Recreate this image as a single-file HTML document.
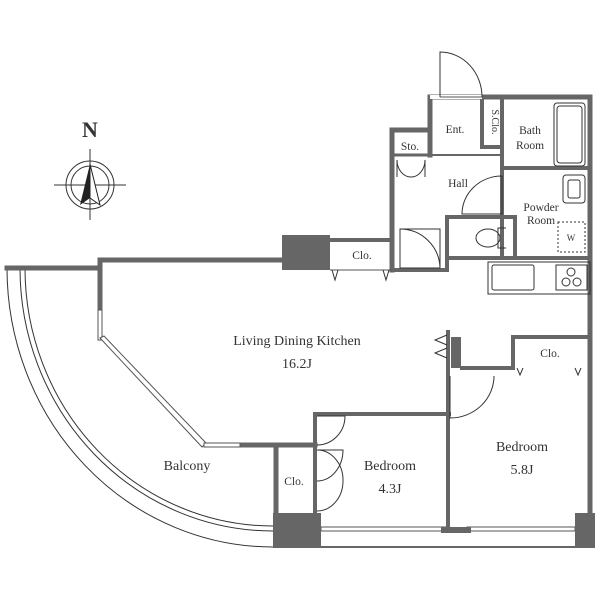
<!DOCTYPE html>
<html><head><meta charset="utf-8"><style>
html,body{margin:0;padding:0;background:#fff;}
svg{display:block;}
text{font-family:"Liberation Serif",serif;fill:#333;}
</style></head><body>
<svg width="600" height="600" viewBox="0 0 600 600" xmlns="http://www.w3.org/2000/svg">
<g fill="none" stroke="#333" stroke-width="1">
 <path d="M7,268 A266,279 0 0 0 273,547"/>
 <path d="M20,268 A253,263 0 0 0 273,531"/>
 <path d="M25,268 A248,258 0 0 0 273,526"/>
</g>
<g fill="none" stroke="#666" stroke-width="5" stroke-linecap="square">
 <line x1="7" y1="268" x2="100" y2="268"/>
 <line x1="100" y1="260" x2="284" y2="260"/>
 <line x1="100" y1="260" x2="100" y2="310"/>
 <line x1="240" y1="445" x2="315" y2="445"/>
 <line x1="276" y1="447" x2="276" y2="515"/>
 <line x1="315" y1="414" x2="449" y2="414" stroke-width="4"/>
 <line x1="315" y1="414" x2="315" y2="515" stroke-width="4"/>
 <line x1="448" y1="332" x2="448" y2="529" stroke-width="4"/>
 <line x1="590" y1="97" x2="590" y2="515"/>
 <line x1="462" y1="368" x2="513" y2="368" stroke-width="4"/>
 <line x1="513" y1="337" x2="590" y2="337" stroke-width="4"/>
 <line x1="513" y1="337" x2="513" y2="368" stroke-width="4"/>
 <line x1="456" y1="337" x2="456" y2="368" stroke-width="10" stroke-linecap="butt"/>
 <line x1="392" y1="130" x2="430" y2="130"/>
 <line x1="392" y1="130" x2="392" y2="270"/>
 <line x1="430" y1="97" x2="430" y2="155"/>
 <line x1="430" y1="97" x2="590" y2="97"/>
 <line x1="392" y1="155" x2="430" y2="155" stroke-width="3"/>
 <line x1="430" y1="155" x2="502" y2="155" stroke-width="2"/>
 <line x1="482" y1="97" x2="482" y2="147" stroke-width="4"/>
 <line x1="482" y1="147" x2="502" y2="147" stroke-width="4"/>
 <line x1="502" y1="97" x2="502" y2="258" stroke-width="4"/>
 <line x1="502" y1="168" x2="590" y2="168" stroke-width="4"/>
 <line x1="447" y1="217" x2="515" y2="217" stroke-width="4"/>
 <line x1="515" y1="217" x2="515" y2="258" stroke-width="4"/>
 <line x1="447" y1="217" x2="447" y2="270" stroke-width="4"/>
 <line x1="392" y1="270" x2="447" y2="270" stroke-width="4"/>
 <line x1="447" y1="258" x2="590" y2="258" stroke-width="4"/>
 <line x1="330" y1="240" x2="392" y2="240" stroke-width="4"/>
</g>
<g fill="#fff" stroke="#555" stroke-width="1">
 <rect x="98" y="310" width="4" height="30"/>
 <polygon points="100,338 104,336 206,443 202,447"/>
 <rect x="204" y="443" width="36" height="4"/>
 <rect x="321" y="527" width="125" height="4"/>
 <rect x="467" y="527" width="108" height="4"/>
 <rect x="430" y="95" width="52" height="4" stroke="none"/>
 <line x1="440" y1="97" x2="482" y2="97"/>
 <line x1="330" y1="270" x2="392" y2="270"/>
</g>
<g fill="#666">
 <rect x="282" y="235" width="48" height="35"/>
 <rect x="273" y="513" width="48" height="35"/>
 <rect x="575" y="513" width="20" height="35"/>
 <rect x="441" y="527" width="30" height="6"/>
</g>
<line x1="321" y1="547" x2="590" y2="547" stroke="#666" stroke-width="2"/>
<g fill="none" stroke="#333" stroke-width="1">
 <path d="M440,97 L440,52 A42,45 0 0 1 482,97"/>
 <path d="M332,270 L335,280 L338,270 M383,270 L386,280 L389,270"/>
 <path d="M517,368 L520,375 L523,368 M575,368 L578,375 L581,368"/>
 <path d="M397,177 L397,160 A14,17 0 0 0 411,177 M425,177 L425,160 A14,17 0 0 1 411,177"/>
 <path d="M462,214 A40,38 0 0 1 502,176 L502,214 Z"/>
 <path d="M400,229 L440,229 L440,268 L400,268 Z"/>
 <path d="M400,229 A40,40 0 0 1 440,268"/>
 <path d="M506,228 L498,228 L498,248 L506,248"/>
 <ellipse cx="488" cy="238" rx="12" ry="9"/>
 <rect x="554" y="103" width="31" height="63" rx="3"/>
 <rect x="557" y="106" width="25" height="57" rx="3"/>
 <rect x="563" y="175" width="22" height="28" rx="3"/>
 <rect x="568" y="180" width="12" height="18" rx="2"/>
 <rect x="558" y="222" width="27" height="30" stroke-dasharray="2,2"/>
 <rect x="488" y="262" width="102" height="32"/>
 <rect x="492" y="265" width="42" height="25" rx="2"/>
 <rect x="556" y="265" width="31" height="25"/>
 <circle cx="571" cy="272" r="4"/><circle cx="566" cy="282" r="4"/><circle cx="577" cy="282" r="4"/>
 <path d="M447,335 L435,340 L447,345 M447,348 L435,353 L447,358"/>
 <path d="M450,376 L450,418 A44,42 0 0 0 494,376"/>
 <path d="M317,416 L345,416 A28,29 0 0 1 317,445"/>
 <path d="M317,450 A26,30 0 0 1 343,481 A26,30 0 0 1 317,511"/>
 <path d="M317,450 L343,450 A26,31 0 0 1 317,481"/>
 <circle cx="90" cy="185" r="24"/>
 <circle cx="90" cy="185" r="19"/>
 <line x1="54" y1="185" x2="126" y2="185"/>
 <line x1="90" y1="149" x2="90" y2="220"/>
</g>
<polygon points="90,164 80,205 90,198" fill="#222"/>
<polygon points="90,164 100,205 90,198" fill="#fff" stroke="#222" stroke-width="1"/>
<text x="90" y="137" font-size="22" font-weight="bold" text-anchor="middle">N</text>
<g font-size="14" text-anchor="middle">
 <text x="297" y="345">Living Dining Kitchen</text>
 <text x="297" y="368">16.2J</text>
 <text x="187" y="470">Balcony</text>
 <text x="390" y="470">Bedroom</text>
 <text x="390" y="493">4.3J</text>
 <text x="522" y="451">Bedroom</text>
 <text x="522" y="474">5.8J</text>
</g>
<g font-size="11.5" text-anchor="middle">
 <text x="362" y="259">Clo.</text>
 <text x="550" y="357">Clo.</text>
 <text x="294" y="485">Clo.</text>
 <text x="455" y="133">Ent.</text>
 <text x="410" y="150">Sto.</text>
 <text x="458" y="187">Hall</text>
 <text x="530" y="134">Bath</text>
 <text x="530" y="149">Room</text>
 <text x="541" y="211">Powder</text>
 <text x="541" y="224">Room</text>
 <text x="571" y="241" font-size="9">W</text>
 <text x="492" y="122" font-size="10" transform="rotate(90 492 122)">S.Clo.</text>
</g>
</svg>
</body></html>
